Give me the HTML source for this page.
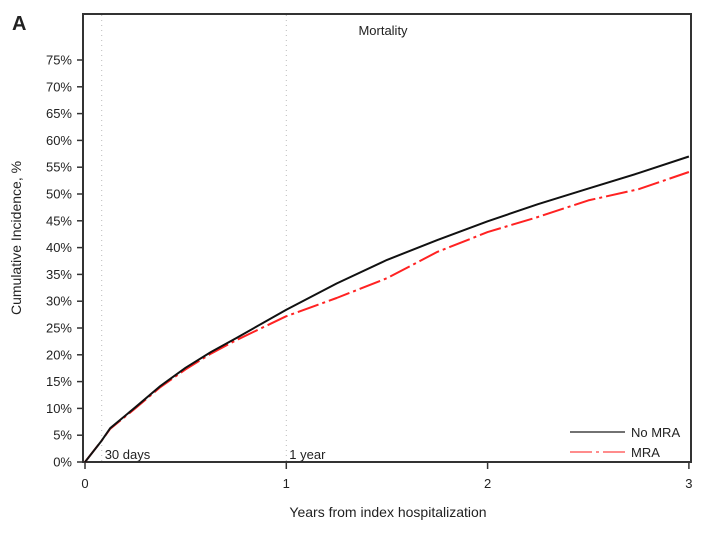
<!DOCTYPE html>
<html><head><meta charset="utf-8"><style>
body{margin:0;background:#fff;width:702px;height:534px;overflow:hidden}
text{font-family:"Liberation Sans",sans-serif;fill:#222}
</style></head><body>
<svg id="chart" width="702" height="534" xmlns="http://www.w3.org/2000/svg">
<text x="12" y="30" font-size="20" font-weight="bold">A</text>
<text x="383" y="35" font-size="13" text-anchor="middle">Mortality</text>
<rect x="83" y="14" width="608" height="448" fill="none" stroke="#333" stroke-width="2"/>
<g id="yaxis"></g>
<g id="xaxis"></g>
<g id="refs"></g>
<g id="series"></g>
<text transform="translate(21,238) rotate(-90)" font-size="14" text-anchor="middle">Cumulative Incidence, %</text>
<text x="388" y="517" font-size="14" text-anchor="middle">Years from index hospitalization</text>
<g>
<line x1="570" y1="432" x2="625" y2="432" stroke="#444" stroke-width="1.5"/>
<text x="631" y="437" font-size="13">No MRA</text>
<line x1="570" y1="452" x2="625" y2="452" stroke="#f66" stroke-width="1.5" stroke-dasharray="22,4,3,4"/>
<text x="631" y="457" font-size="13">MRA</text>
</g>
</svg>
<script>
const years=[0,0.083,0.125,0.25,0.375,0.5,0.625,0.75,1,1.25,1.5,1.75,2,2.25,2.5,2.75,3];
const noMra=[0,4,6.3,10.2,14.2,17.6,20.5,23.1,28.4,33.3,37.7,41.4,44.9,48.1,51,53.9,57];
const mra=[0,4,6.2,10,14,17.3,20.2,22.7,27.2,30.6,34.3,39.2,42.9,45.7,48.8,50.9,54.1];
const yTicks=[0,5,10,15,20,25,30,35,40,45,50,55,60,65,70,75];
const xTicks=[0,1,2,3];
const refYears=[0.083,1];
const refLabels=["30 days","1 year"];
const NS="http://www.w3.org/2000/svg";
const X=t=>85+201.3*t;
const Y=v=>462-5.36*v;
function mk(tag,attrs,parent,txt){const e=document.createElementNS(NS,tag);for(const k in attrs)e.setAttribute(k,attrs[k]);if(txt!==undefined)e.textContent=txt;parent.appendChild(e);return e;}
const ya=document.getElementById('yaxis');
yTicks.forEach(v=>{
 const l=mk('line',{x1:77,x2:83,y1:Y(v),y2:Y(v),stroke:'#333','stroke-width':1.5},ya);
 
 
 const t=mk('text',{x:72,y:Y(v)+4.5,'font-size':13,'text-anchor':'end'},ya,v+'%');
 
 
});
const xa=document.getElementById('xaxis');
xTicks.forEach(v=>{
 const l=mk('line',{x1:X(v),x2:X(v),y1:462,y2:469,stroke:'#333','stroke-width':1.5},xa);
 
 
 const t=mk('text',{x:X(v),y:488,'font-size':13,'text-anchor':'middle'},xa,String(v));
 
 
});
const rf=document.getElementById('refs');
refYears.forEach((v,i)=>{
 const l=mk('line',{x1:X(v),x2:X(v),y1:15,y2:461,stroke:'#bbb','stroke-width':1,'stroke-dasharray':'1,4'},rf);
 
 
 const t=mk('text',{x:X(v)+3,y:459,'font-size':13},rf,refLabels[i]);
 
 
});
const sg=document.getElementById('series');
function path(vals){return vals.map((v,i)=>(i?'L':'M')+X(years[i]).toFixed(1)+','+Y(v).toFixed(1)).join(' ');}
const pm=mk('path',{d:path(mra),fill:'none',stroke:'#f22','stroke-width':2,'stroke-dasharray':'22,4,3,4','stroke-linejoin':'round'},sg);


const pn=mk('path',{d:path(noMra),fill:'none',stroke:'#111','stroke-width':2,'stroke-linejoin':'round'},sg);


</script>
</body></html>
